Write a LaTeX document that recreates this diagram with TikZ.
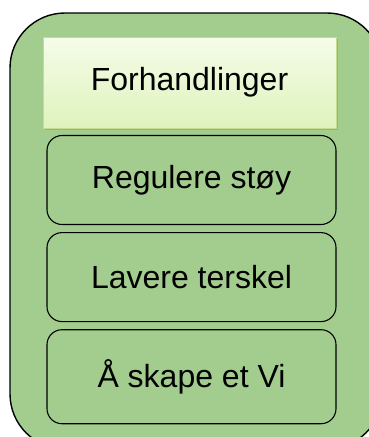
\documentclass[tikz,border=0pt]{standalone}
\usepackage{fontspec}
\setmainfont{Liberation Sans}
\usetikzlibrary{positioning,shadows}
\definecolor{leaf}{HTML}{A3CD8E}
\definecolor{paletop}{HTML}{F5FCE9}
\definecolor{palebot}{HTML}{DFF3BC}
\definecolor{paleline}{HTML}{C6DC8C}

\begin{document}
\begin{tikzpicture}[x=1pt,y=-1pt,node distance=7pt,
    item/.style={draw=black,line width=1.1pt,rounded corners=15pt,fill=leaf,
      minimum width=289pt,minimum height=89pt,font=\fontsize{32}{38}\selectfont},
    head/.style={draw=paleline,line width=0.8pt,top color=paletop,bottom color=palebot,
      minimum width=293pt,minimum height=91pt,font=\fontsize{32}{38}\selectfont,
      drop shadow={shadow xshift=1.5pt,shadow yshift=-1.5pt,opacity=0.35}}]
	  \useasboundingbox (0,0) rectangle (369,437);
	  \begin{scope}
	    \clip (0,0) rectangle (369,437);
	    \draw[fill=leaf,line width=1.4pt,rounded corners=55pt] (10,13) rectangle (382,449);
	  \end{scope}
	  \node[head] (forh) at (189.5,82.5)  {Forhandlinger};
	  \node[item] (stoy) at (191.5,180)   {Regulere støy};
	  \node[item] (terskel) [below=of stoy] {Lavere terskel};
	  \node[item,minimum height=94pt] (vi) [below=of terskel] {Å skape et Vi};
	\end{tikzpicture}
\end{document}
